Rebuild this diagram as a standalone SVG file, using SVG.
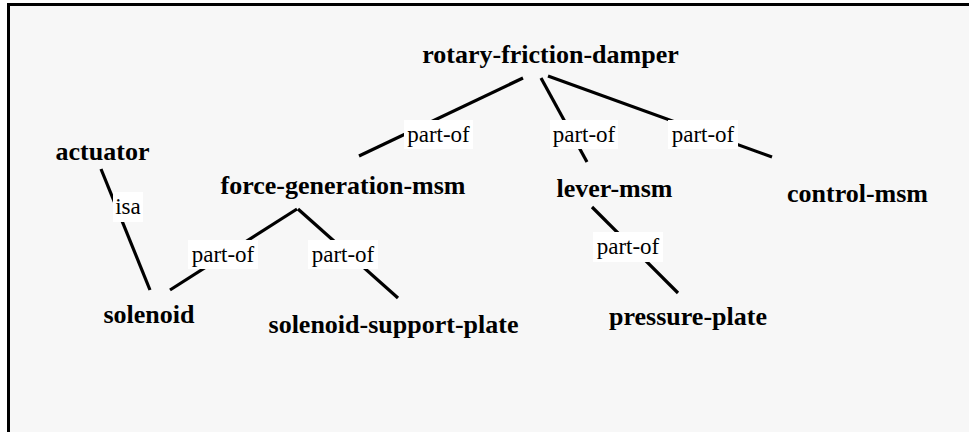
<svg xmlns="http://www.w3.org/2000/svg" width="969" height="432" viewBox="0 0 969 432">
<style>
.node{font-weight:bold;font-size:26px;fill:#000;text-anchor:middle}
.lbl{font-size:23px;fill:#000;text-anchor:middle}
.lbox{fill:#fff}
.edge{stroke:#000;stroke-width:3.2;fill:none}
</style>
<rect x="0" y="0" width="969" height="432" fill="#fff"/>
<rect x="8.5" y="4.5" width="970" height="440" fill="#f7f7f7" stroke="#000" stroke-width="3"/>
<g font-family="Liberation Serif, Times New Roman, DejaVu Serif, serif">
<g id="connectors">
<line class="edge" x1="523" y1="78" x2="359" y2="156"/>
<line class="edge" x1="541" y1="78" x2="587" y2="162"/>
<line class="edge" x1="548" y1="76" x2="772" y2="157"/>
<line class="edge" x1="592" y1="207" x2="678" y2="293"/>
<line class="edge" x1="101" y1="169" x2="150" y2="290"/>
<line class="edge" x1="297" y1="209" x2="170" y2="290"/>
<line class="edge" x1="298" y1="209" x2="398" y2="298"/>
<g id="lbl-rfd-fgm"><rect class="lbox" x="404" y="120" width="69" height="29"/><text class="lbl" x="438.5" y="142">part-of</text></g>
<g id="lbl-rfd-lever"><rect class="lbox" x="550" y="120" width="68" height="29"/><text class="lbl" x="584" y="142">part-of</text></g>
<g id="lbl-rfd-control"><rect class="lbox" x="668" y="120" width="70" height="29"/><text class="lbl" x="703" y="142">part-of</text></g>
<g id="lbl-lever-pressure"><rect class="lbox" x="593" y="232" width="70" height="30"/><text class="lbl" x="628" y="254">part-of</text></g>
<g id="lbl-act-sol"><rect class="lbox" x="113" y="192" width="30" height="30"/><text class="lbl" x="128" y="214">isa</text></g>
<g id="lbl-fgm-sol"><rect class="lbox" x="188" y="240" width="70" height="29"/><text class="lbl" x="223" y="262">part-of</text></g>
<g id="lbl-fgm-ssp"><rect class="lbox" x="308" y="240" width="70" height="29"/><text class="lbl" x="343" y="262">part-of</text></g>
</g>
<g id="rotary-friction-damper"><text class="node" x="550.5" y="63">rotary-friction-damper</text></g>
<g id="force-generation-msm"><text class="node" x="343" y="194">force-generation-msm</text></g>
<g id="lever-msm"><text class="node" x="614.5" y="197">lever-msm</text></g>
<g id="control-msm"><text class="node" x="857.5" y="202">control-msm</text></g>
<g id="actuator"><text class="node" x="102.5" y="160">actuator</text></g>
<g id="solenoid"><text class="node" x="149" y="323">solenoid</text></g>
<g id="solenoid-support-plate"><text class="node" x="393.5" y="333">solenoid-support-plate</text></g>
<g id="pressure-plate"><text class="node" x="688" y="325">pressure-plate</text></g>
</g>
</svg>
